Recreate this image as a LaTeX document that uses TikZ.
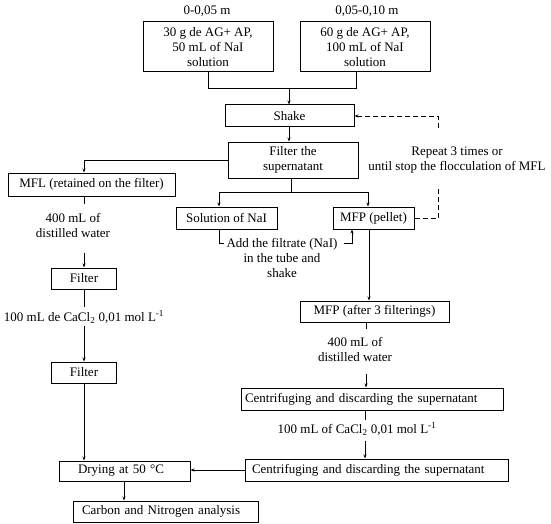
\documentclass[tikz,border=0pt]{standalone}
\usepackage{fontspec}
\setmainfont{Liberation Serif}
\usetikzlibrary{arrows.meta}
\begin{document}
\begin{tikzpicture}[x=1pt,y=-1pt,
  txt/.style={font=\fontsize{13}{15}\selectfont},
  box/.style={draw, line width=1pt, inner sep=0pt, align=center, txt},
  lbl/.style={inner sep=0pt, align=center, txt},
  ln/.style={line width=0.75pt},
  arr/.style={line width=0.75pt, -{Stealth[length=4pt,width=3pt]}},
  dsh/.style={line width=0.75pt, dash pattern=on 5pt off 3pt}]
\fill[white] (0,0) rectangle (551,524);
\useasboundingbox (0,0) rectangle (551,524);
% top labels
\node[lbl] (l1) at (207,11) {0-0,05 m};
\node[lbl] (l2) at (367,11) {0,05-0,10 m};
% boxes
\node[box, minimum width=130pt, minimum height=50pt] (b1) at (208,47) {30 g de AG+ AP,\\50 mL of NaI\\solution};
\node[box, minimum width=130pt, minimum height=50pt] (b2) at (365,47) {60 g de AG+ AP,\\100 mL of NaI\\solution};
\node[box, minimum width=129pt, minimum height=22pt] (shake) at (289.5,116) {Shake};
\node[box, minimum width=130pt, minimum height=36pt] (filter) at (293,160) {Filter the\\supernatant};
\node[box, minimum width=167pt, minimum height=23pt] (mfl) at (91.5,184.5) {MFL (retained on the filter)};
\node[box, minimum width=65pt, minimum height=21pt] (fl1) at (84,278.5) {Filter};
\node[box, minimum width=65pt, minimum height=21pt] (fl2) at (84,372.5) {Filter};
\node[box, align=left, inner xsep=19pt, text width=93pt, minimum height=20pt] (dry) at (124.5,471) {Drying at 50 °C};
\node[box, align=left, inner xsep=9pt, text width=167pt, minimum height=21pt] (carbon) at (165.5,511.5) {Carbon and Nitrogen analysis};
\node[box, minimum width=101pt, minimum height=22pt] (sol) at (226.5,218) {Solution of NaI};
\node[box, minimum width=81pt, minimum height=22pt] (mfp) at (373.5,218) {MFP (pellet)};
\node[box, minimum width=149pt, minimum height=21pt] (after) at (374.5,311.5) {MFP (after 3 filterings)};
\node[box, align=left, inner xsep=4pt, text width=254pt, minimum height=22pt] (c1) at (372,399) {Centrifuging and discarding the supernatant};
\node[box, align=left, inner xsep=7pt, text width=249pt, minimum height=22pt] (c2) at (376.5,470) {Centrifuging and discarding the supernatant};
% free labels
\node[lbl] (w1) at (73,225.5) {400 mL of\\distilled water};
\node[lbl] (ca1) at (84,317) {100 mL de CaCl\textsubscript{2} 0,01 mol L\textsuperscript{-1}};
\node[lbl] (add) at (282,258) {Add the filtrate (NaI)\\in the tube and\\shake};
\node[lbl] (rep) at (457,160) {Repeat 3 times or\\until stop the flocculation of MFL};
\node[lbl] (w2) at (355,349.5) {400 mL of\\distilled water};
\node[lbl] (ca2) at (357,429) {100 mL of CaCl\textsubscript{2} 0,01 mol L\textsuperscript{-1}};
% top connectors
\coordinate (jn) at (289,88);
\draw[ln] (b1.south) |- (jn);
\draw[ln] ([xshift=-9pt]b2.south) |- (jn);
\draw[arr] (jn) -- (jn |- shake.north);
\draw[arr] (shake.south -| jn) -- (jn |- filter.north);
% split below filter
\coordinate (fj) at (291,192);
\draw[ln] (fj |- filter.south) -- (fj);
\draw[arr] (fj) -| ([xshift=-7.5pt]sol.north);
\draw[arr] (fj) -| ([xshift=-5.5pt]mfp.north);
\draw[ln] ([xshift=-7.5pt]sol.south) |- ([xshift=-2pt,yshift=15pt]add.west);
\draw[arr] ([xshift=6pt,yshift=15pt]add.east) -| ([xshift=-21.5pt]mfp.south);
% dashed loop
\coordinate (dlo) at (438,188);
\coordinate (dhi) at (438,128);
\draw[dsh] (mfp.east) -| (dlo);
\draw[dsh, -{Stealth[length=4pt,width=3pt]}] (dhi) |- (shake.east);
% left column
\draw[arr] (filter.west) -| (mfl.north -| fl1.north);
\draw[ln] (mfl.south -| fl1.north) -- ++(0,7);
\draw[arr] ([yshift=15pt]fl1.north) -- (fl1.north);
\draw[ln] (fl1.south) -- ([yshift=-17pt]fl1.south);
\draw[arr] ([yshift=36pt]fl2.north) -- (fl2.north);
\draw[arr] (fl2.south) -- (fl2.south |- dry.north);
\draw[arr] ([xshift=-0.5pt]dry.south) -- ([xshift=-0.5pt]dry.south |- carbon.north);
% right column
\draw[arr] ([xshift=-4.5pt]mfp.south) -- ([xshift=-4.5pt]mfp.south |- after.north);
\draw[ln] ([xshift=-8.5pt]after.south) -- ++(0,6);
\draw[arr] ([xshift=-6pt,yshift=14pt]c1.north) -- ([xshift=-6pt]c1.north);
\draw[ln] ([xshift=-7pt]c1.south) -- ++(0,9);
\draw[arr] ([xshift=-11.5pt,yshift=18pt]c2.north) -- ([xshift=-11.5pt]c2.north);
\draw[arr] (c2.west) -- (c2.west -| dry.east);
\end{tikzpicture}
\end{document}
